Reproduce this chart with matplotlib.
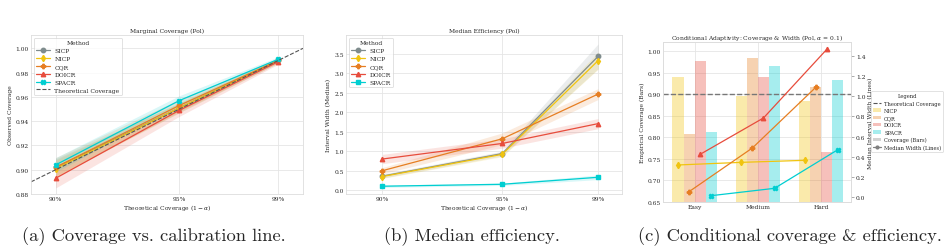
import numpy as np
import matplotlib
matplotlib.use("Agg")
import matplotlib.pyplot as plt
import seaborn as sns
from matplotlib.patches import Patch
from matplotlib.lines import Line2D

sns.set_style("whitegrid")
plt.rcParams['font.family'] = ['DejaVu Serif']
plt.rcParams['mathtext.fontset'] = 'dejavuserif'

methods = ["SICP", "NICP", "CQR", "DOICR", "SPACR"]
colors = {"SICP": "#7f8c8d", "NICP": "#f1c40f", "CQR": "#e67e22",
          "DOICR": "#e74c3c", "SPACR": "#00ced1"}
markers = {"SICP": "o", "NICP": "d", "CQR": "P", "DOICR": "^", "SPACR": "X"}

levels = [0.90, 0.95, 0.99]
level_labels = ["90%", "95%", "99%"]

cov_mean = {
    "SICP":  [0.902, 0.951, 0.990],
    "NICP":  [0.901, 0.951, 0.990],
    "CQR":   [0.902, 0.953, 0.990],
    "DOICR": [0.893, 0.949, 0.989],
    "SPACR": [0.904, 0.957, 0.991],
}
cov_err = {
    "SICP":  [0.007, 0.004, 0.002],
    "NICP":  [0.007, 0.004, 0.002],
    "CQR":   [0.008, 0.005, 0.002],
    "DOICR": [0.008, 0.005, 0.002],
    "SPACR": [0.006, 0.004, 0.002],
}

width_mean = {
    "SICP":  [0.36, 0.94, 3.44],
    "NICP":  [0.35, 0.92, 3.33],
    "CQR":   [0.50, 1.32, 2.47],
    "DOICR": [0.80, 1.20, 1.71],
    "SPACR": [0.10, 0.15, 0.33],
}
width_err = {
    "SICP":  [0.05, 0.06, 0.32],
    "NICP":  [0.05, 0.06, 0.22],
    "CQR":   [0.08, 0.15, 0.14],
    "DOICR": [0.12, 0.12, 0.13],
    "SPACR": [0.03, 0.03, 0.06],
}

groups = ["Easy", "Medium", "Hard"]
cond_methods = ["NICP", "CQR", "DOICR", "SPACR"]
cond_cov = {
    "NICP":  [0.941, 0.895, 0.885],
    "CQR":   [0.808, 0.985, 0.916],
    "DOICR": [0.976, 0.940, 0.766],
    "SPACR": [0.812, 0.966, 0.932],
}
cond_width = {
    "NICP":  [0.318, 0.344, 0.364],
    "CQR":   [0.053, 0.487, 1.089],
    "DOICR": [0.424, 0.785, 1.467],
    "SPACR": [0.013, 0.086, 0.470],
}

W, H = 945, 253
fig = plt.figure(figsize=(W / 100, H / 100), dpi=100)

def add_ax(l, r, t, b):
    return fig.add_axes([l / W, (H - b) / H, (r - l) / W, (b - t) / H])

fs = 4.3
lw = 0.9
ms = 3.2

def style(ax):
    ax.tick_params(labelsize=fs, pad=1.5, length=0)
    for s in ax.spines.values():
        s.set_color("#dddddd")
        s.set_linewidth(0.6)
    ax.grid(color="#e5e5e5", linewidth=0.6)

# (a)
ax = add_ax(31, 303, 36, 195)
style(ax)
for m in methods:
    mu = np.array(cov_mean[m]); e = np.array(cov_err[m])
    ax.fill_between(levels, mu - e, mu + e, color=colors[m], alpha=0.15, linewidth=0)
    ax.plot(levels, mu, color=colors[m], marker=markers[m], lw=lw, ms=ms, label=m)
ax.plot([0.89, 1.0], [0.89, 1.0], ls="--", color="#555555", lw=0.8, label="Theoretical Coverage")
ax.set_xlim(0.89, 1.0)
ax.set_ylim(0.88, 1.011)
ax.set_xticks(levels)
ax.set_xticklabels(level_labels)
ax.set_yticks(np.arange(0.88, 1.001, 0.02))
ax.set_yticklabels([f"{v:.2f}" for v in np.arange(0.88, 1.001, 0.02)])
ax.set_title("Marginal Coverage (Pol)", fontsize=fs, pad=2)
ax.set_xlabel(r"Theoretical Coverage $(1-\alpha)$", fontsize=fs, labelpad=1)
ax.set_ylabel("Observed Coverage", fontsize=fs, labelpad=2)
leg = ax.legend(loc="upper left", fontsize=fs, title="Method", title_fontsize=fs,
                frameon=True, handlelength=2.2, borderpad=0.4, labelspacing=0.45)
leg.get_frame().set_linewidth(0.5)

# (b)
ax = add_ax(346, 622, 36, 195)
style(ax)
for m in methods:
    mu = np.array(width_mean[m]); e = np.array(width_err[m])
    ax.fill_between(levels, mu - e, mu + e, color=colors[m], alpha=0.15, linewidth=0)
    mk = "s" if m == "SPACR" else markers[m]
    ax.plot(levels, mu, color=colors[m], marker=mk, lw=lw, ms=ms, label=m)
ax.set_xlim(0.8848, 1.0)
ax.set_ylim(-0.1, 3.99)
ax.set_xticks(levels)
ax.set_xticklabels(level_labels)
ax.set_yticks(np.arange(0, 3.51, 0.5))
ax.set_title("Median Efficiency (Pol)", fontsize=fs, pad=2)
ax.set_xlabel(r"Theoretical Coverage $(1-\alpha)$", fontsize=fs, labelpad=1)
ax.set_ylabel("Interval Width (Median)", fontsize=fs, labelpad=2)
leg = ax.legend(loc="upper left", fontsize=fs, title="Method", title_fontsize=fs,
                frameon=True, handlelength=2.2, borderpad=0.4, labelspacing=0.45)
leg.get_frame().set_linewidth(0.5)

# (c)
ax = add_ax(663, 851, 43, 203)
style(ax)
x = np.arange(len(groups))
bw = 0.175
for i, m in enumerate(cond_methods):
    off = (i - 1.5) * bw
    ax.bar(x + off, np.array(cond_cov[m]) - 0.65, bottom=0.65, width=bw,
           color=colors[m], alpha=0.35, linewidth=0)
ax.axhline(0.90, ls="--", color="#777777", lw=1.0)
ax.set_ylim(0.65, 1.021)
ax.set_xlim(-0.5, 2.47)
ax.set_xticks(x)
ax.set_xticklabels(groups)
ax.set_yticks(np.arange(0.65, 1.001, 0.05))
ax.set_yticklabels([f"{v:.2f}" for v in np.arange(0.65, 1.001, 0.05)])
ax.set_ylabel("Empirical Coverage (Bars)", fontsize=fs, labelpad=2)
ax.set_title(r"Conditional Adaptivity: Coverage & Width (Pol, $\alpha$ = 0.1)", fontsize=fs, pad=2)
ax2 = ax.twinx()
for i, m in enumerate(cond_methods):
    off = (i - 1.5) * bw
    ax2.plot(x + off, cond_width[m], color=colors[m], marker=markers[m], lw=lw, ms=ms)
ax2.set_ylim(-0.05, 1.54)
ax2.set_yticks(np.arange(0, 1.41, 0.2))
ax2.set_yticklabels([f"{v:.1f}" for v in np.arange(0, 1.41, 0.2)])
ax2.grid(False)
ax2.tick_params(labelsize=fs, pad=1.5, length=2, width=0.5, color="#888888")
for s in ax2.spines.values():
    s.set_color("#dddddd")
    s.set_linewidth(0.6)
ax2.set_ylabel("Median Interval Width (Lines)", fontsize=fs, labelpad=2)

lfs = 3.7
handles = [Line2D([0], [0], ls="--", color="#555555", lw=0.8)]
labels = ["Theoretical Coverage"]
for m in cond_methods:
    handles.append(Patch(facecolor=colors[m], alpha=0.35, linewidth=0))
    labels.append(m)
handles.append(Patch(facecolor="gray", alpha=0.35, linewidth=0))
labels.append("Coverage (Bars)")
handles.append(Line2D([0], [0], color="gray", marker="o", lw=lw, ms=2))
labels.append("Median Width (Lines)")
leg = ax2.legend(handles, labels, loc="center left", bbox_to_anchor=(1.105, 0.503),
                 fontsize=lfs, title="Legend", title_fontsize=lfs, frameon=True,
                 handlelength=1.6, handletextpad=0.6, borderpad=0.4, labelspacing=0.45,
                 borderaxespad=0)
leg.get_frame().set_linewidth(0.5)

# captions
cap_fs = 13.3
fig.text(154 / W, 1 - 237 / H, "(a) Coverage vs. calibration line.", fontsize=cap_fs,
         family="cmr10", ha="center", va="center")
fig.text(472 / W, 1 - 237 / H, "(b) Median efficiency.", fontsize=cap_fs,
         family="cmr10", ha="center", va="center")
fig.text(790 / W, 1 - 237 / H, "(c) Conditional coverage & efficiency.", fontsize=cap_fs,
         family="cmr10", ha="center", va="center")

fig.savefig("out.png", dpi=100)
